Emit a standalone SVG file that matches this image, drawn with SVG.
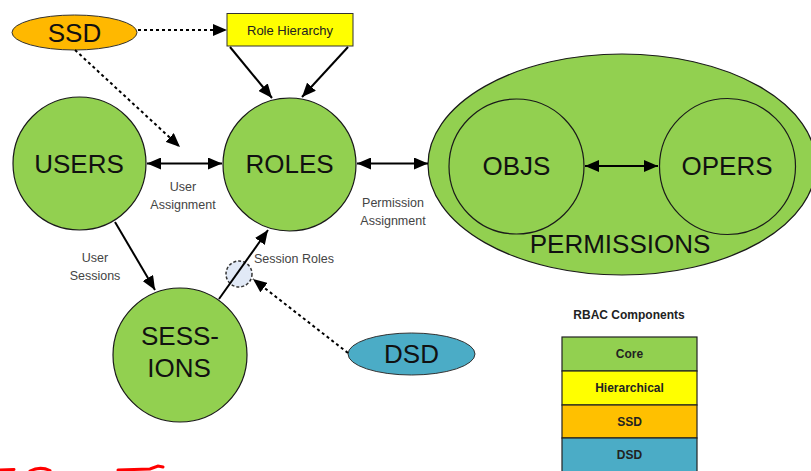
<svg xmlns="http://www.w3.org/2000/svg" width="811" height="471" viewBox="0 0 811 471">
<defs>
<marker id="ah" markerWidth="14" markerHeight="12" refX="14" refY="6" orient="auto-start-reverse" markerUnits="userSpaceOnUse">
<path d="M0,0 L14,6 L0,12 Z" fill="#000"/>
</marker>
</defs>
<style>
.core{fill:#92D050;stroke:#1a1a1a;stroke-width:1.2}
.big{font-family:"Liberation Sans",Arial,sans-serif;font-size:26px;fill:#111;text-anchor:middle}
.lbl{font-family:"Liberation Sans",Arial,sans-serif;font-size:12.5px;fill:#444;text-anchor:middle}
.leg{font-family:"Liberation Sans",Arial,sans-serif;font-size:12px;font-weight:bold;fill:#222;text-anchor:middle}
.solid{stroke:#000;stroke-width:2;fill:none}
.dot{stroke:#000;stroke-width:2;stroke-dasharray:3,3;fill:none}
.red{stroke:#ff0000;stroke-width:3;fill:none;stroke-linecap:round}
</style>
<rect width="811" height="471" fill="#fff"/>

<g id="ssd">
<ellipse cx="74.5" cy="32.5" rx="62.5" ry="17.5" fill="#FFB800" stroke="#333" stroke-width="1"/>
<text class="big" x="74.5" y="41.5">SSD</text>
</g>
<g id="role-hierarchy">
<rect x="227" y="13.5" width="126" height="32.5" fill="#FFFF00" stroke="#333" stroke-width="1"/>
<text x="290" y="34.5" font-family="'Liberation Sans',Arial,sans-serif" font-size="13" fill="#222" text-anchor="middle">Role Hierarchy</text>
</g>
<g id="permissions">
<ellipse cx="622" cy="164.5" rx="194" ry="110.5" class="core"/>
<text class="big" x="620" y="253">PERMISSIONS</text>
</g>
<g id="objs">
<circle cx="516.5" cy="166.5" r="67.5" fill="none" stroke="#1a1a1a" stroke-width="1.2"/>
<text class="big" x="516.5" y="175">OBJS</text>
</g>
<g id="opers">
<circle cx="727.5" cy="166.5" r="68" fill="none" stroke="#1a1a1a" stroke-width="1.2"/>
<text class="big" x="727" y="175">OPERS</text>
</g>
<g id="users">
<circle cx="79.5" cy="163.5" r="66.5" class="core"/>
<text class="big" x="79" y="172.5">USERS</text>
</g>
<g id="roles">
<circle cx="289.5" cy="164.5" r="66.5" class="core"/>
<text class="big" x="289.5" y="172.5">ROLES</text>
</g>
<g id="sessions">
<circle cx="180" cy="355" r="67" class="core"/>
<text class="big" x="180" y="345">SESS-</text>
<text class="big" x="179" y="377">IONS</text>
</g>
<g id="session-roles-junction">
<circle cx="239" cy="274" r="13" fill="#E1E9F6" stroke="#333" stroke-width="1.5" stroke-dasharray="3,2"/>
</g>
<g id="dsd">
<ellipse cx="411.5" cy="354" rx="63.5" ry="21" fill="#4BACC6" stroke="#333" stroke-width="1"/>
<text class="big" x="411.5" y="363">DSD</text>
</g>

<g id="connectors">
<line class="dot" x1="138" y1="30" x2="227" y2="30" marker-end="url(#ah)"/>
<line class="dot" x1="75" y1="50" x2="180" y2="147" marker-end="url(#ah)"/>
<line class="solid" x1="230" y1="47" x2="272" y2="98" marker-end="url(#ah)"/>
<line class="solid" x1="348" y1="47" x2="302" y2="97" marker-end="url(#ah)"/>
<line class="solid" x1="147" y1="163.5" x2="222" y2="163.5" marker-start="url(#ah)" marker-end="url(#ah)"/>
<line class="solid" x1="357" y1="163.5" x2="428" y2="163.5" marker-start="url(#ah)" marker-end="url(#ah)"/>
<line class="solid" x1="585" y1="166" x2="658" y2="166" marker-start="url(#ah)" marker-end="url(#ah)"/>
<line class="solid" x1="115" y1="222" x2="155" y2="290" marker-end="url(#ah)"/>
<line class="solid" x1="219" y1="299" x2="268" y2="230" marker-end="url(#ah)"/>
<line class="dot" x1="348" y1="353" x2="253" y2="279" marker-end="url(#ah)"/>
</g>

<g id="labels">
<text class="lbl" x="183" y="191">User</text>
<text class="lbl" x="183" y="209">Assignment</text>
<text class="lbl" x="393" y="207">Permission</text>
<text class="lbl" x="393" y="225">Assignment</text>
<text class="lbl" x="95" y="262">User</text>
<text class="lbl" x="95" y="280">Sessions</text>
<text class="lbl" x="254" y="263" style="text-anchor:start">Session Roles</text>
</g>

<g id="legend">
<text class="leg" x="629" y="319">RBAC Components</text>
<rect x="562" y="337" width="135" height="34" fill="#92D050" stroke="#222" stroke-width="1.2"/>
<rect x="562" y="371" width="135" height="34" fill="#FFFF00" stroke="#222" stroke-width="1.2"/>
<rect x="562" y="405" width="135" height="33" fill="#FFC000" stroke="#222" stroke-width="1.2"/>
<rect x="562" y="438" width="135" height="40" fill="#4BACC6" stroke="#222" stroke-width="1.2"/>
<text class="leg" x="629.5" y="358">Core</text>
<text class="leg" x="629.5" y="392">Hierarchical</text>
<text class="leg" x="629.5" y="426">SSD</text>
<text class="leg" x="629.5" y="459">DSD</text>
</g>

<g id="red-marks">
<path class="red" d="M0,470 L14,469.5"/>
<path class="red" d="M30,471 Q40,466 50,470.5"/>
<path class="red" d="M118,470 L150,469 L158,466 L163,467"/>
</g>
</svg>
